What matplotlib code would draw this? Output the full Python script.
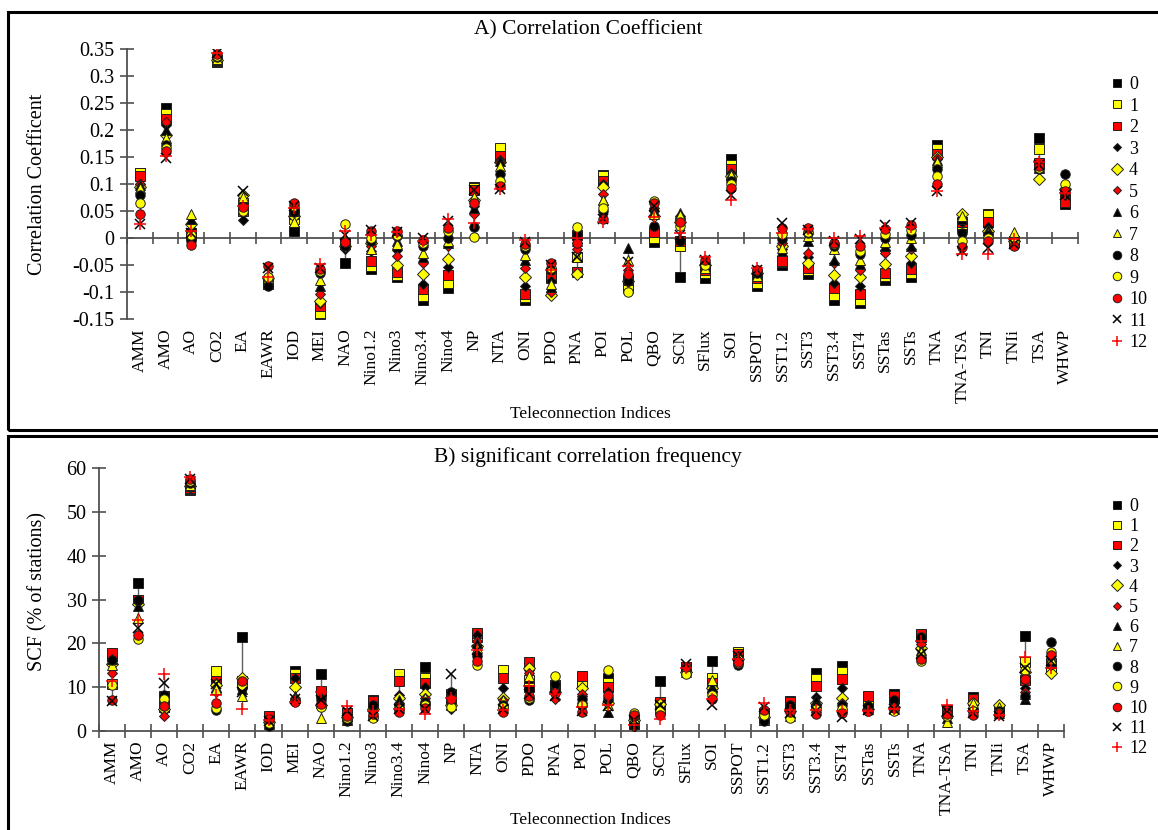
import numpy as np
import matplotlib
matplotlib.use("Agg")
import matplotlib.pyplot as plt
from matplotlib.patches import Rectangle

# ---------------------------------------------------------------- data
categories = ["AMM", "AMO", "AO", "CO2", "EA", "EAWR", "IOD", "MEI", "NAO",
              "Nino1.2", "Nino3", "Nino3.4", "Nino4", "NP", "NTA", "ONI", "PDO",
              "PNA", "POI", "POL", "QBO", "SCN", "SFlux", "SOI", "SSPOT",
              "SST1.2", "SST3", "SST3.4", "SST4", "SSTas", "SSTs", "TNA",
              "TNA-TSA", "TNI", "TNIi", "TSA", "WHWP"]
lag_labels = ["0", "1", "2", "3", "4", "5", "6", "7", "8", "9", "10", "11", "12"]

# correlation coefficient by lag (months)
cc_lag0 = [0.12, 0.24, 0.01, 0.326, 0.06, -0.085, 0.013, -0.141, -0.047, -0.057, -0.073, -0.115, -0.092, 0.095, 0.16, -0.115, -0.065, 0.005, 0.117, -0.085, -0.007, -0.073, -0.075, 0.147, -0.088, -0.05, -0.067, -0.114, -0.12, -0.078, -0.072, 0.172, 0.02, 0.045, -0.005, 0.186, 0.063]
cc_lag1 = [0.12, 0.229, 0.005, 0.328, 0.065, -0.083, 0.035, -0.138, -0.01, -0.052, -0.068, -0.107, -0.083, 0.093, 0.167, -0.11, -0.07, -0.036, 0.114, -0.092, 0.0, -0.015, -0.065, 0.135, -0.083, -0.045, -0.06, -0.106, -0.114, -0.07, -0.065, 0.164, 0.025, 0.042, -0.008, 0.164, 0.07]
cc_lag2 = [0.115, 0.22, 0.008, 0.33, 0.05, -0.08, 0.045, -0.126, -0.012, -0.043, -0.063, -0.095, -0.069, 0.088, 0.152, -0.103, -0.075, -0.063, 0.106, -0.078, 0.011, -0.005, -0.06, 0.128, -0.075, -0.043, -0.055, -0.093, -0.103, -0.064, -0.058, 0.155, 0.03, 0.03, -0.005, 0.138, 0.067]
cc_lag3 = [0.10, 0.21, 0.0, 0.327, 0.033, -0.087, 0.04, -0.12, -0.02, -0.025, -0.022, -0.086, -0.054, 0.06, 0.145, -0.089, -0.08, -0.01, 0.1, -0.07, 0.05, 0.04, -0.055, 0.12, -0.07, -0.021, -0.035, -0.083, -0.088, -0.023, -0.046, 0.146, 0.03, 0.02, -0.01, 0.13, 0.08]
cc_lag4 = [0.095, 0.19, 0.025, 0.329, 0.08, -0.075, 0.04, -0.117, -0.015, -0.01, -0.05, -0.066, -0.038, 0.07, 0.14, -0.072, -0.105, -0.066, 0.094, -0.08, 0.04, 0.03, -0.05, 0.115, -0.065, -0.015, -0.046, -0.069, -0.073, -0.048, -0.033, 0.15, 0.045, 0.013, -0.005, 0.11, 0.09]
cc_lag5 = [0.10, 0.215, 0.002, 0.333, 0.06, -0.07, 0.055, -0.104, -0.005, -0.015, -0.033, -0.046, -0.015, 0.045, 0.14, -0.055, -0.1, -0.02, 0.082, -0.06, 0.055, 0.035, -0.045, 0.11, -0.062, -0.01, -0.027, -0.046, -0.06, -0.027, -0.021, 0.148, 0.035, 0.01, -0.01, 0.135, 0.085]
cc_lag6 = [0.098, 0.20, 0.035, 0.33, 0.07, -0.08, 0.05, -0.089, -0.01, -0.02, -0.005, -0.036, -0.01, 0.055, 0.143, -0.04, -0.09, -0.005, 0.07, -0.018, 0.05, 0.047, -0.05, 0.118, -0.065, -0.025, -0.005, -0.04, -0.049, -0.015, -0.015, 0.145, 0.035, 0.015, 0.005, 0.13, 0.09]
cc_lag7 = [0.093, 0.186, 0.045, 0.332, 0.075, -0.075, 0.03, -0.077, 0.0, -0.02, -0.012, -0.027, -0.005, 0.075, 0.133, -0.031, -0.085, -0.035, 0.07, -0.04, 0.045, 0.042, -0.055, 0.116, -0.07, -0.018, 0.004, -0.021, -0.04, -0.007, 0.0, 0.14, 0.041, 0.01, 0.012, 0.132, 0.1]
cc_lag8 = [0.08, 0.173, -0.005, 0.335, 0.055, -0.088, 0.048, -0.064, -0.015, -0.005, 0.003, -0.015, 0.0, 0.02, 0.119, -0.02, -0.06, 0.008, 0.05, -0.08, 0.023, -0.005, -0.048, 0.105, -0.065, -0.002, 0.01, -0.015, -0.03, 0.0, 0.005, 0.127, 0.01, 0.005, -0.01, 0.128, 0.119]
cc_lag9 = [0.065, 0.167, 0.005, 0.337, 0.05, -0.072, 0.06, -0.061, 0.025, 0.0, 0.005, -0.01, 0.013, 0.002, 0.106, -0.015, -0.055, 0.02, 0.056, -0.1, 0.068, 0.023, -0.05, 0.1, -0.06, 0.007, 0.012, -0.012, -0.024, 0.008, 0.014, 0.115, -0.005, 0.0, -0.008, 0.13, 0.1]
cc_lag10 = [0.045, 0.161, -0.013, 0.34, 0.057, -0.052, 0.065, -0.058, -0.008, 0.013, 0.013, -0.004, 0.019, 0.065, 0.096, -0.012, -0.046, -0.009, 0.035, -0.066, 0.065, 0.03, -0.04, 0.093, -0.06, 0.019, 0.019, -0.01, -0.015, 0.016, 0.024, 0.1, -0.017, -0.005, -0.015, 0.133, 0.087]
cc_lag11 = [0.025, 0.149, 0.01, 0.342, 0.087, -0.055, 0.06, -0.055, 0.005, 0.015, 0.012, 0.0, 0.031, 0.088, 0.09, -0.008, -0.05, -0.036, 0.035, -0.045, 0.06, 0.005, -0.04, 0.08, -0.06, 0.028, 0.015, -0.005, -0.002, 0.024, 0.027, 0.087, -0.025, -0.019, -0.012, 0.136, 0.08]
cc_lag12 = [0.025, 0.152, 0.013, 0.342, 0.06, -0.073, 0.055, -0.049, 0.013, 0.005, 0.012, -0.005, 0.035, 0.028, 0.09, -0.004, -0.06, 0.0, 0.03, -0.052, 0.039, 0.01, -0.035, 0.07, -0.055, 0.01, 0.017, 0.0, 0.004, 0.018, 0.02, 0.087, -0.03, -0.029, -0.002, 0.14, 0.083]

# significant correlation frequency (% of stations) by lag
scf_lag0 = [17, 33.8, 8, 55, 12.4, 21.5, 3.3, 13.8, 13, 4, 7, 12.5, 14.5, 8, 21.5, 13.5, 10, 10.5, 11, 12, 1.5, 11.5, 14.5, 16, 17.5, 3, 6.8, 13.3, 14.8, 6.5, 8.5, 21.5, 4.8, 7.8, 5, 21.7, 15]
scf_lag1 = [10.7, 30, 6, 55.3, 13.8, 11, 3, 13, 9, 3.5, 6.5, 12.9, 12.2, 8.5, 22, 13.9, 11.6, 10, 11.3, 11, 2, 6, 14, 12, 18, 3.5, 6.2, 11.8, 13.5, 6, 7.5, 21.8, 4, 7, 4.5, 15.8, 14.5]
scf_lag2 = [17.7, 29.9, 5.5, 55.5, 11.5, 11.5, 3.5, 12, 9.2, 4.2, 6.9, 11.5, 11, 7.5, 22.3, 12.2, 15.8, 9.5, 12.5, 10, 2.5, 6.7, 14.5, 11, 17.5, 4, 6.7, 10.3, 11.8, 8, 8, 22.1, 4.5, 7.4, 4.5, 11.6, 15.5]
scf_lag3 = [16, 30, 4.5, 55.5, 11, 10, 2.5, 12.2, 7.5, 3, 5.5, 8.2, 10, 5, 22, 9.7, 14, 11, 8, 9, 1, 5, 14, 10.3, 17, 2.8, 5.5, 7.8, 9.7, 6, 6.5, 21, 3.5, 6, 4, 9.7, 15.8]
scf_lag4 = [15.3, 29, 5, 55.8, 10.5, 12.2, 2, 10, 6, 3.2, 5, 7.5, 8.4, 6, 19.5, 7.5, 14.4, 9, 9.7, 6.5, 2.5, 6.2, 13.5, 9.7, 16.5, 3.2, 4.5, 6.3, 7.5, 5, 5.5, 19, 3.5, 6.5, 5.9, 13.5, 13.3]
scf_lag5 = [13.3, 29.5, 3.5, 56, 9, 10.5, 2.5, 7.5, 5.5, 3.5, 5.2, 6.5, 7.5, 6.5, 20.5, 7, 13.2, 7.2, 8.5, 7, 2, 4.5, 14.5, 9, 16, 3.5, 4.5, 6, 6.5, 5, 5.5, 19.8, 3.5, 5, 4.2, 9, 15]
scf_lag6 = [16.5, 28.5, 6.5, 56, 10, 9.5, 1.5, 8, 6.5, 2.5, 4.5, 7, 7, 7.5, 20, 6.5, 12, 10.5, 7.5, 4.4, 1.5, 5, 14, 10, 16.5, 2.5, 4, 7, 6, 5.5, 6, 18.5, 3, 5.5, 4, 7.2, 16]
scf_lag7 = [15, 25.7, 7, 56.2, 9.5, 8, 1.8, 7.5, 2.9, 2.8, 4, 6, 7.5, 6, 19, 7, 12.5, 9.7, 7, 6, 3, 5.5, 13.5, 11.6, 16.5, 2.5, 3.5, 5.5, 5.5, 5, 5, 18, 2.1, 6.5, 5.5, 8.5, 16.5]
scf_lag8 = [16.2, 30, 8.3, 56.5, 4.8, 9.7, 1.2, 7, 7.1, 2.2, 5.9, 5.5, 6.7, 9, 17, 6, 7, 10.8, 7.2, 7.5, 3.5, 4, 14, 9, 15, 2.2, 5.9, 5.5, 5.9, 5.8, 7.1, 21.4, 4, 4.5, 4.5, 8, 20.2]
scf_lag9 = [10.5, 21.1, 7.2, 57, 5.3, 10.5, 1.8, 6.8, 5.5, 2.9, 3, 5, 6, 5.5, 15.1, 5.5, 7.5, 12.5, 6, 13.9, 4, 4.5, 13, 8.2, 15.5, 3.6, 3, 5, 5, 4.5, 4.5, 16, 3.5, 4.5, 4, 14, 18.1]
scf_lag10 = [7, 22, 5.7, 57.4, 6.3, 11.3, 2.7, 6.7, 6.1, 3.4, 3.8, 4.4, 5.2, 7.2, 16, 4.4, 8, 8.6, 4.4, 8.2, 3.6, 3.6, 14.5, 7.2, 15.8, 4.8, 4.3, 3.8, 4.2, 4.6, 5.2, 16.4, 3.8, 3.6, 3.8, 11.8, 17.3]
scf_lag11 = [6.9, 23.4, 11, 57.6, 10.7, 9, 2.2, 7.2, 7, 4.5, 3.5, 5, 5, 12.9, 18.5, 5, 8.5, 8, 4.5, 5.7, 2.5, 6, 15.3, 6, 17, 5.5, 4, 4.5, 3.3, 4.8, 5, 17.5, 4.5, 4.2, 3.5, 14.3, 16]
scf_lag12 = [11.5, 25.3, 13, 58, 8.2, 5, 2.6, 6.6, 9, 5.7, 4.6, 5, 3.8, 7.5, 18.5, 4.8, 10.3, 8.5, 5.4, 6, 1.4, 2.7, 14.3, 7.3, 16.5, 6.5, 4.7, 4.8, 4.5, 4.6, 5, 20.6, 5.9, 4.5, 3.6, 16.8, 14.3]

cc_ticks = [-0.15, -0.1, -0.05, 0, 0.05, 0.1, 0.15, 0.2, 0.25, 0.3, 0.35]
cc_ticklabels = ["-0.15", "-0.1", "-0.05", "0", "0.05", "0.1", "0.15", "0.2", "0.25", "0.3", "0.35"]
scf_ticks = [0, 10, 20, 30, 40, 50, 60]

cc_series = [cc_lag0, cc_lag1, cc_lag2, cc_lag3, cc_lag4, cc_lag5, cc_lag6,
             cc_lag7, cc_lag8, cc_lag9, cc_lag10, cc_lag11, cc_lag12]
scf_series = [scf_lag0, scf_lag1, scf_lag2, scf_lag3, scf_lag4, scf_lag5, scf_lag6,
              scf_lag7, scf_lag8, scf_lag9, scf_lag10, scf_lag11, scf_lag12]

# ---------------------------------------------------------------- style
SERIF = "Liberation Serif"
AXC = "#505050"
YEL, RED, BLK = "#FFFF00", "#FF0000", "#000000"
EDGE = "#202020"
# marker, face colour, size (pt)
marker_styles = [
    ("s", BLK, 6.5), ("s", YEL, 6.5), ("s", RED, 6.5),
    ("D", BLK, 4.8), ("D", YEL, 6.3), ("D", RED, 4.8),
    ("^", BLK, 6.8), ("^", YEL, 6.8),
    ("o", BLK, 6.8), ("o", YEL, 6.8), ("o", RED, 6.8),
    ("x", BLK, 6.5), ("+", RED, 8.0),
]

W, H = 1158, 830
fig = plt.figure(figsize=(W / 100, H / 100), dpi=100)
fig.patch.set_facecolor("white")


def fpos(left, top, right, bottom):
    return [left / W, 1 - bottom / H, (right - left) / W, (bottom - top) / H]


# panel frames
for top, bottom in [(12, 430), (436, 900)]:
    fig.add_artist(Rectangle((8 / W, 1 - bottom / H), 1.2, (bottom - top) / H,
                             transform=fig.transFigure, fill=False,
                             lw=2.2, ec="black", clip_on=False))

x = np.arange(len(categories))
bounds = np.arange(len(categories) + 1) - 0.5


def draw_series(ax, series):
    arr = np.array(series)
    ax.vlines(x, arr.min(axis=0), arr.max(axis=0), color="#606060", lw=1.0, zorder=1)
    for i, (vals, (mk, fc, ms)) in enumerate(zip(series, marker_styles)):
        if mk in ("x", "+"):
            ax.plot(x, vals, ls="none", marker=mk, ms=ms, color=fc, mew=1.1,
                    label=lag_labels[i], zorder=2 + i)
        else:
            ax.plot(x, vals, ls="none", marker=mk, ms=ms, mfc=fc, mec=EDGE,
                    mew=0.7, label=lag_labels[i], zorder=2 + i)


def style_y(ax):
    ax.spines["left"].set_color(AXC)
    ax.spines["left"].set_linewidth(1.3)
    ax.spines["top"].set_visible(False)
    ax.spines["right"].set_visible(False)
    ax.tick_params(axis="y", direction="inout", length=10, width=1.2, color=AXC,
                   labelsize=14.5, pad=4)
    for t in ax.get_yticklabels():
        t.set_fontfamily(SERIF)


def add_legend(ax, top_px, spacing):
    leg = ax.legend(loc="upper left", bbox_to_anchor=(1110 / W, 1 - top_px / H),
                    bbox_transform=fig.transFigure, frameon=False,
                    handlelength=0.8, handletextpad=0.25, labelspacing=spacing,
                    borderaxespad=0, borderpad=0, markerscale=0.9,
                    prop={"family": SERIF, "size": 13})
    return leg


# ---------------------------------------------------------------- panel A
axA = fig.add_axes(fpos(127, 49, 1078, 319))
draw_series(axA, cc_series)
axA.set_xlim(-0.5, len(categories) - 0.5)
axA.set_ylim(-0.15, 0.35)
axA.set_yticks(cc_ticks, cc_ticklabels)
style_y(axA)
axA.spines["bottom"].set_position(("data", 0))
axA.spines["bottom"].set_color(AXC)
axA.spines["bottom"].set_linewidth(1.3)
axA.set_xticks(bounds, [""] * len(bounds))
axA.tick_params(axis="x", direction="inout", length=9, width=1.2, color=AXC)
labA = axA.secondary_xaxis(0.0)
labA.set_xticks(x, categories, rotation=90, fontfamily=SERIF, fontsize=12.5)
labA.tick_params(length=0, pad=7)
labA.spines["bottom"].set_visible(False)
add_legend(axA, 76, 0.25)

fig.text(588 / W, 1 - 30 / H, "A) Correlation Coefficient", ha="center", va="center",
         fontfamily=SERIF, fontsize=15.5)
fig.text(590 / W, 1 - 414 / H, "Teleconnection Indices", ha="center", va="center",
         fontfamily=SERIF, fontsize=12.5)
fig.text(38 / W, 1 - 184 / H, "Correlation Coefficent", ha="center", va="center",
         rotation=90, fontfamily=SERIF, fontsize=14.5)

# ---------------------------------------------------------------- panel B
axB = fig.add_axes(fpos(99, 468, 1064, 731))
draw_series(axB, scf_series)
axB.set_xlim(-0.5, len(categories) - 0.5)
axB.set_ylim(0, 60)
axB.set_yticks(scf_ticks, [str(t) for t in scf_ticks])
style_y(axB)
axB.spines["bottom"].set_color(AXC)
axB.spines["bottom"].set_linewidth(1.3)
axB.set_xticks(bounds, [""] * len(bounds))
axB.set_xticks(x, categories, minor=True, rotation=90, fontfamily=SERIF, fontsize=12.5)
axB.tick_params(axis="x", which="major", direction="inout", length=10, width=1.2, color=AXC)
axB.tick_params(axis="x", which="minor", length=0, pad=7)
add_legend(axB, 498, 0.177)

fig.text(588 / W, 1 - 457 / H, "B) significant correlation frequency", ha="center",
         va="center", fontfamily=SERIF, fontsize=15.5)
fig.text(590 / W, 1 - 820 / H, "Teleconnection Indices", ha="center", va="center",
         fontfamily=SERIF, fontsize=12.5)
fig.text(38 / W, 1 - 591 / H, "SCF (% of stations)", ha="center", va="center",
         rotation=90, fontfamily=SERIF, fontsize=14.5)

fig.savefig("out.png", dpi=100)
